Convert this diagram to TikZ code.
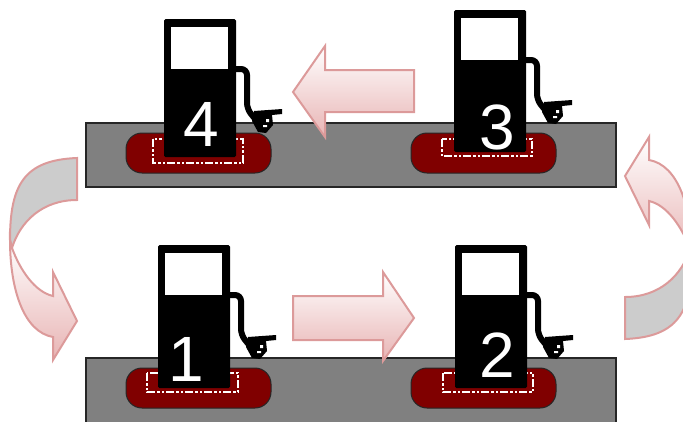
\documentclass[tikz,border=0pt]{standalone}
\usepackage{fontspec}
\setmainfont{Liberation Sans}
\usetikzlibrary{arrows.meta,positioning}
\definecolor{edgepink}{HTML}{DC9A9A}
\definecolor{shadepink}{HTML}{E8B4B4}
\definecolor{tailgray}{HTML}{CCCCCC}
\definecolor{padred}{HTML}{800000}
\begin{document}
\begin{tikzpicture}[x=1pt,y=-1pt,
  platform/.style={draw=black!85,line width=1.4pt,fill=black!50},
  pad/.style={draw=black!85,line width=1pt,fill=padred,rounded corners=16pt},
  padmark/.style={draw=white,line width=1.4pt,dash pattern=on 8pt off 2pt on 3pt off 2pt on 2pt off 2pt},
  flow/.style={draw=edgepink,line width=2pt,line join=miter},
  tail/.style={flow,fill=tailgray},
  num/.style={text=white,font=\fontsize{64}{64}\selectfont,inner sep=0pt},
  pump/.pic={
    \fill[black,rounded corners=1.5pt] (0,0) rectangle (72,#1);
    \fill[white] (7,8) rectangle (64,50);
    \draw[black,line width=6pt,rounded corners=6pt] (70,50) -- (83,50) -- (83,90) -- (92,101);
    \fill[black] (90,92) -- (118,90) -- (118,95) -- (108,96) -- (109,106) -- (102,114) -- (94,113) -- (88,102) -- cycle;
    \fill[white] (102,100) rectangle (105,103) (99,106) rectangle (103,108);
  }]
\useasboundingbox (0,0) rectangle (683,421);
\clip (0,0) rectangle (683,421);
% platforms
\draw[platform] (86,123) rectangle (616,187);
\draw[platform] (86,358) rectangle (616,430);
% pads
\draw[pad] (126,133) rectangle (271,173);
\draw[pad] (411,133) rectangle (556,173);
\draw[pad] (126,368) rectangle (271,408);
\draw[pad] (411,368) rectangle (556,408);
\draw[padmark] (153,139) rectangle (243,163);
\draw[padmark] (442,139) rectangle (532,156);
\draw[padmark] (147,373) rectangle (238,392);
\draw[padmark] (443,373) rectangle (533,392);
% pumps
\pic (pumpfour) at (164,19) {pump=138};
\pic (pumpthree) at (454,10) {pump=142};
\pic (pumpone) at (158,245) {pump=143};
\pic (pumptwo) at (455,245) {pump=143};
\node[num] (numfour) at (201,124) {4};
\node[num] (numthree) at (497,127) {3};
\node[num] (numone) at (186,359) {1};
\node[num] (numtwo) at (497,355) {2};
% straight arrows
\draw[flow,top color=white,bottom color=shadepink] (414,70) -- (325,70) -- (325,46) -- (293,92) -- (325,137) -- (325,112) -- (414,112) -- cycle;
\draw[flow,top color=white,bottom color=shadepink] (293,296) -- (383,296) -- (383,272) -- (414,318) -- (383,361) -- (383,340) -- (293,340) -- cycle;
% curved arrow, left
\draw[tail] (77,158) .. controls (24,160) and (10,185) .. (10,240) -- (12,248) .. controls (20,222) and (42,200) .. (77,200) -- cycle;
\draw[flow,top color=white,bottom color=shadepink] (10,240) .. controls (10,290) and (24,332) .. (53,337) -- (53,360) -- (77,321) -- (53,272) -- (53,296) .. controls (35,292) and (20,270) .. (12,248) -- cycle;
% curved arrow, right
\begin{scope}[shift={(702,497)},x=-1pt,y=1pt]
\draw[tail] (77,158) .. controls (24,160) and (10,185) .. (10,240) -- (12,248) .. controls (20,222) and (42,200) .. (77,200) -- cycle;
\draw[flow,top color=white,bottom color=shadepink] (10,240) .. controls (10,290) and (24,332) .. (53,337) -- (53,360) -- (77,321) -- (53,272) -- (53,296) .. controls (35,292) and (20,270) .. (12,248) -- cycle;
\end{scope}
\end{tikzpicture}
\end{document}
